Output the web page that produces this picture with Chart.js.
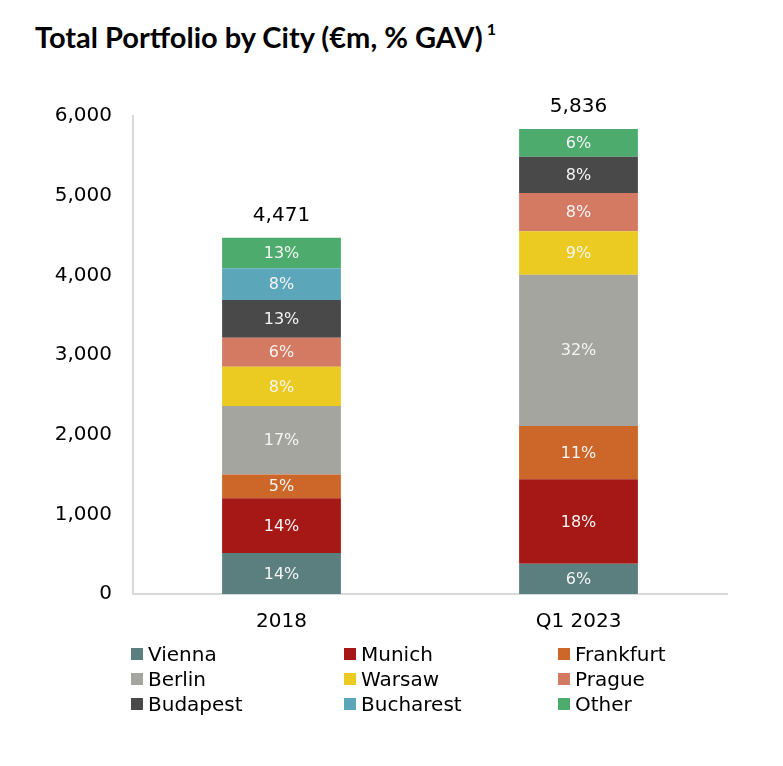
<!DOCTYPE html>
<html>
<head>
<meta charset="utf-8">
<script src="https://cdn.jsdelivr.net/npm/chart.js@4.4.0/dist/chart.umd.min.js"></script>
<style>
    body { margin: 0; background: #fff; }
    #wrap { position: relative; width: 783px; height: 766px; overflow: hidden; }
    #title {
        position: absolute; left: 35px; top: 19px;
        font-family: Lato, sans-serif; font-weight: 700; font-size: 29px; color: #000;
        white-space: nowrap;
    }
    #title sup { font-size: 16px; position: relative; top: -2px; margin-left: 4px; }
    #chart { position: absolute; left: 0; top: 0; }
    #legend {
        position: absolute; left: 131px; top: 642px;
        display: grid; grid-template-columns: 213px 214px 200px; row-gap: 1px;
        font-family: "DejaVu Sans", sans-serif; font-size: 20px; color: #000;
    }
    .item { display: flex; align-items: center; height: 24px; }
    .box { width: 12px; height: 12px; margin-right: 5px; flex: none; }
</style>
</head>
<body>
<div id="wrap">
    <div id="title">Total Portfolio by City (€m, % GAV)<sup>1</sup></div>
    <canvas id="chart"></canvas>
    <div id="legend"></div>
</div>
<script>
// 데이터
const periods = ['2018', 'Q1 2023'];
const cities = ['Vienna', 'Munich', 'Frankfurt', 'Berlin', 'Warsaw', 'Prague', 'Budapest', 'Bucharest', 'Other'];
const colors = ['#5b7f7e', '#a51816', '#cd6629', '#a5a5a0', '#ebcb22', '#d47a63', '#494949', '#5ba6b8', '#4dac6d'];
const values2018 = [516, 687, 298, 859, 491, 365, 474, 399, 382];
const values2023 = [380, 1060, 670, 1898, 545, 482, 453, 0, 348];
const pct2018 = [14, 14, 5, 17, 8, 6, 13, 8, 13];
const pct2023 = [6, 18, 11, 32, 9, 8, 8, null, 6];
const totals = [4471, 5836];
const yTicks = [0, 1000, 2000, 3000, 4000, 5000, 6000];

const fmt = n => n.toLocaleString('en-US');

const datasets = cities.map((city, i) => ({
    label: city,
    data: [values2018[i], values2023[i]],
    pct: [pct2018[i], pct2023[i]],
    backgroundColor: colors[i],
    borderWidth: 0,
    barPercentage: 0.4,
    categoryPercentage: 1.0
}));

// 막대 안의 퍼센트와 위쪽 합계 표시
const labelPlugin = {
    id: 'labels',
    afterDatasetsDraw(chart) {
        const ctx = chart.ctx;
        ctx.save();
        ctx.textAlign = 'center';
        ctx.textBaseline = 'middle';
        ctx.font = '16px "DejaVu Sans"';
        ctx.fillStyle = '#f4f4f4';
        chart.data.datasets.forEach((ds, di) => {
            const meta = chart.getDatasetMeta(di);
            meta.data.forEach((bar, j) => {
                if (!ds.data[j] || ds.pct[j] == null) return;
                ctx.fillText(ds.pct[j] + '%', bar.x, (bar.y + bar.base) / 2 + 1);
            });
        });
        const y = chart.scales.y;
        const x = chart.scales.x;
        ctx.font = '20px "DejaVu Sans"';
        ctx.fillStyle = '#000';
        totals.forEach((t, j) => {
            ctx.fillText(fmt(t), x.getPixelForValue(j), y.getPixelForValue(t) - 22);
        });
        ctx.restore();
    }
};

const canvas = document.getElementById('chart');
canvas.style.width = '783px';
canvas.style.height = '766px';

new Chart(canvas, {
    type: 'bar',
    data: { labels: periods, datasets: datasets },
    options: {
        responsive: false,
        animation: false,
        maintainAspectRatio: false,
        layout: { padding: { top: 116, right: 56, left: 0, bottom: 0 } },
        scales: {
            x: {
                stacked: true,
                grid: { display: false, drawTicks: false },
                border: { display: true, color: '#d9d9d9', width: 2 },
                ticks: { color: '#000', font: { family: 'DejaVu Sans', size: 20 }, padding: 16 },
                afterFit(scale) { scale.height = 172; }
            },
            y: {
                stacked: true,
                min: 0,
                max: 6000,
                afterBuildTicks(scale) { scale.ticks = yTicks.map(v => ({ value: v })); },
                grid: { display: false, drawTicks: false },
                border: { display: true, color: '#d9d9d9', width: 2 },
                ticks: {
                    color: '#000',
                    font: { family: 'DejaVu Sans', size: 20 },
                    padding: 21,
                    callback: v => fmt(v)
                },
                afterFit(scale) { scale.width = 133; }
            }
        },
        plugins: {
            legend: { display: false },
            tooltip: { enabled: false }
        }
    },
    plugins: [labelPlugin]
});

// 범례 (3열)
const legendEl = document.getElementById('legend');
cities.forEach((city, i) => {
    const item = document.createElement('div');
    item.className = 'item';
    item.innerHTML = `<span class="box" style="background:${colors[i]}"></span><span>${city}</span>`;
    legendEl.appendChild(item);
});
</script>
</body>
</html>
